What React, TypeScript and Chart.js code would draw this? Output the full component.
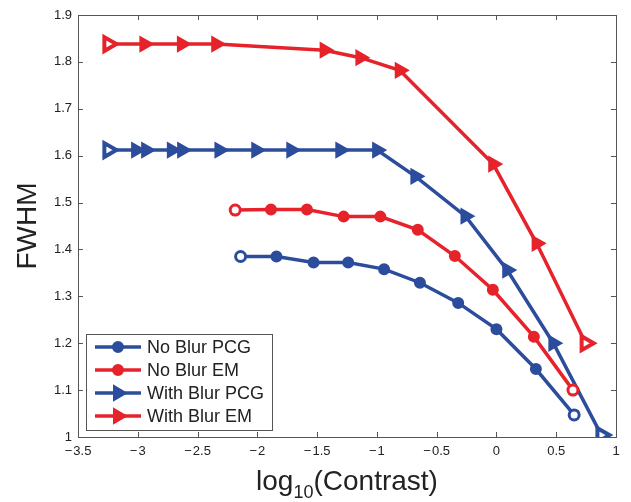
import React, { useEffect, useRef } from "react";
import { Chart, registerables } from "chart.js";

Chart.register(...registerables);

const SERIES_NAMES = ["No Blur PCG", "No Blur EM", "With Blur PCG", "With Blur EM"];
const SERIES_COLORS = ["#2c4c9c", "#e6222b", "#2c4c9c", "#e6222b"];
const SERIES_MARKERS = ["circle", "circle", "triangle", "triangle"];

const NO_BLUR_PCG_X = [-2.14, -1.84, -1.53, -1.24, -0.94, -0.64, -0.32, 0.0, 0.33, 0.65];
const NO_BLUR_PCG_Y = [1.385, 1.385, 1.372, 1.372, 1.358, 1.329, 1.286, 1.23, 1.145, 1.047];

const NO_BLUR_EM_X = [-2.185, -1.886, -1.585, -1.278, -0.971, -0.658, -0.348, -0.03, 0.313, 0.64];
const NO_BLUR_EM_Y = [1.484, 1.485, 1.485, 1.47, 1.47, 1.442, 1.386, 1.314, 1.214, 1.1];

const WITH_BLUR_PCG_X = [-3.246, -3.014, -2.93, -2.715, -2.629, -2.317, -2.009, -1.716, -1.306, -0.998, -0.678, -0.259, 0.09, 0.476, 0.878];
const WITH_BLUR_PCG_Y = [1.612, 1.612, 1.612, 1.612, 1.612, 1.612, 1.612, 1.612, 1.612, 1.612, 1.556, 1.471, 1.356, 1.2, 1.004];

const WITH_BLUR_EM_X = [-3.246, -2.945, -2.631, -2.344, -1.437, -1.138, -0.809, -0.027, 0.336, 0.746];
const WITH_BLUR_EM_Y = [1.838, 1.838, 1.838, 1.838, 1.825, 1.809, 1.782, 1.582, 1.413, 1.2];

const SERIES_X = [NO_BLUR_PCG_X, NO_BLUR_EM_X, WITH_BLUR_PCG_X, WITH_BLUR_EM_X];
const SERIES_Y = [NO_BLUR_PCG_Y, NO_BLUR_EM_Y, WITH_BLUR_PCG_Y, WITH_BLUR_EM_Y];

const X_MIN = -3.5;
const X_MAX = 1;
const X_STEP = 0.5;
const Y_MIN = 1;
const Y_MAX = 1.9;
const Y_STEP = 0.1;

const X_TITLE_MAIN = "log";
const X_TITLE_SUB = "10";
const X_TITLE_REST = "(Contrast)";
const Y_TITLE = "FWHM";

const FONT = "'Liberation Sans', Arial, Helvetica, sans-serif";
const TEXT = "#222";
const AXIS = "#555";

function drawMarker(ctx: CanvasRenderingContext2D, kind: string, cx: number, cy: number, color: string) {
  ctx.fillStyle = color;
  ctx.strokeStyle = color;
  ctx.lineWidth = 2;
  ctx.beginPath();
  if (kind === "circle") {
    ctx.arc(cx, cy, 5, 0, Math.PI * 2);
  } else {
    const r = 8;
    ctx.moveTo(cx + r, cy);
    ctx.lineTo(cx - r / 2, cy - r * 0.866);
    ctx.lineTo(cx - r / 2, cy + r * 0.866);
    ctx.closePath();
  }
  ctx.fill();
  ctx.stroke();
}

const overlayPlugin = {
  id: "overlay",
  afterDraw(chart: any) {
    const ctx: CanvasRenderingContext2D = chart.ctx;
    const { left, right, top, bottom } = chart.chartArea;
    const xs = chart.scales.x;
    const ys = chart.scales.y;
    ctx.save();
    ctx.strokeStyle = AXIS;
    ctx.lineWidth = 1;
    ctx.strokeRect(Math.round(left) + 0.5, Math.round(top) + 0.5, Math.round(right - left), Math.round(bottom - top));
    const tl = 5;
    ctx.beginPath();
    xs.ticks.forEach((t: any) => {
      const px = Math.round(xs.getPixelForValue(t.value)) + 0.5;
      ctx.moveTo(px, bottom);
      ctx.lineTo(px, bottom - tl);
      ctx.moveTo(px, top);
      ctx.lineTo(px, top + tl);
    });
    ys.ticks.forEach((t: any) => {
      const py = Math.round(ys.getPixelForValue(t.value)) + 0.5;
      ctx.moveTo(left, py);
      ctx.lineTo(left + tl, py);
      ctx.moveTo(right, py);
      ctx.lineTo(right - tl, py);
    });
    ctx.stroke();

    // y title
    ctx.fillStyle = TEXT;
    ctx.save();
    ctx.translate(28, (top + bottom) / 2);
    ctx.rotate(-Math.PI / 2);
    ctx.font = `28px ${FONT}`;
    ctx.textAlign = "center";
    ctx.textBaseline = "middle";
    ctx.fillText(Y_TITLE, 0, 0);
    ctx.restore();

    // x title with subscript
    ctx.textAlign = "left";
    ctx.textBaseline = "alphabetic";
    const bigFont = `28px ${FONT}`;
    const smallFont = `18px ${FONT}`;
    ctx.font = bigFont;
    const w1 = ctx.measureText(X_TITLE_MAIN).width;
    const w3 = ctx.measureText(X_TITLE_REST).width;
    ctx.font = smallFont;
    const w2 = ctx.measureText(X_TITLE_SUB).width;
    const total = w1 + w2 + w3;
    const cx = (left + right) / 2;
    let sx = cx - total / 2;
    const base = 490;
    ctx.font = bigFont;
    ctx.fillText(X_TITLE_MAIN, sx, base);
    sx += w1;
    ctx.font = smallFont;
    ctx.fillText(X_TITLE_SUB, sx, base + 8);
    sx += w2;
    ctx.font = bigFont;
    ctx.fillText(X_TITLE_REST, sx, base);

    // legend
    const lx = 86, ly = 334, lw = 186, lh = 96;
    ctx.fillStyle = "#fff";
    ctx.fillRect(lx, ly, lw, lh);
    ctx.strokeStyle = AXIS;
    ctx.lineWidth = 1;
    ctx.strokeRect(lx + 0.5, ly + 0.5, lw, lh);
    SERIES_NAMES.forEach((name, i) => {
      const ry = 347 + i * 23;
      ctx.strokeStyle = SERIES_COLORS[i];
      ctx.lineWidth = 3.5;
      ctx.beginPath();
      ctx.moveTo(95, ry);
      ctx.lineTo(141, ry);
      ctx.stroke();
      drawMarker(ctx, SERIES_MARKERS[i], 118, ry, SERIES_COLORS[i]);
      ctx.fillStyle = TEXT;
      ctx.font = `18px ${FONT}`;
      ctx.textAlign = "left";
      ctx.textBaseline = "middle";
      ctx.fillText(name, 147, ry + 1);
    });
    ctx.restore();
  },
};

export default function App() {
  const ref = useRef<HTMLCanvasElement | null>(null);
  useEffect(() => {
    if (!ref.current) return;
    const datasets = SERIES_NAMES.map((name, i) => {
      const xsArr = SERIES_X[i];
      const ysArr = SERIES_Y[i];
      const n = xsArr.length;
      const isTri = SERIES_MARKERS[i] === "triangle";
      const isEnd = (k: number) => k === 0 || k === n - 1;
      return {
        label: name,
        data: xsArr.map((x, k) => ({ x, y: ysArr[k] })),
        showLine: true,
        borderColor: SERIES_COLORS[i],
        borderWidth: 3.5,
        pointStyle: SERIES_MARKERS[i],
        pointRotation: isTri ? 90 : 0,
        pointRadius: isTri ? 8 : 5,
        pointBorderWidth: xsArr.map((_, k) => (isEnd(k) ? (isTri ? 4 : 3) : 2)),
        pointBorderColor: SERIES_COLORS[i],
        pointBackgroundColor: xsArr.map((_, k) => (isEnd(k) ? "#ffffff" : SERIES_COLORS[i])),
        tension: 0,
      };
    });
    const chart = new Chart(ref.current, {
      type: "scatter",
      data: { datasets: datasets as any },
      options: {
        animation: false,
        responsive: false,
        devicePixelRatio: 1,
        layout: { padding: { left: 0, top: 15, right: 15, bottom: 0 } },
        plugins: { legend: { display: false }, tooltip: { enabled: false } },
        scales: {
          x: {
            type: "linear",
            min: X_MIN,
            max: X_MAX,
            grid: { display: false, drawTicks: false },
            border: { display: false },
            ticks: {
              stepSize: X_STEP,
              padding: 7,
              color: TEXT,
              font: { size: 13, family: FONT },
              maxRotation: 0,
              callback: (v: any) => {
                const s = String(Number(Number(v).toFixed(1)));
                return s.startsWith("-") ? "\u2212\u200a" + s.slice(1) : s;
              },
            },
            afterFit: (s: any) => {
              s.height = 65;
            },
          },
          y: {
            type: "linear",
            min: Y_MIN,
            max: Y_MAX,
            grid: { display: false, drawTicks: false },
            border: { display: false },
            ticks: {
              stepSize: Y_STEP,
              padding: 6,
              color: TEXT,
              font: { size: 13, family: FONT },
              callback: (v: any) => String(Number(Number(v).toFixed(1))),
            },
            afterFit: (s: any) => {
              s.width = 78;
            },
          },
        },
      },
      plugins: [overlayPlugin],
    });
    return () => chart.destroy();
  }, []);
  return (
    <div style={{ position: "fixed", left: 0, top: 0, width: 631, height: 502, background: "#fff" }}>
      <canvas ref={ref} width={631} height={502} />
    </div>
  );
}
